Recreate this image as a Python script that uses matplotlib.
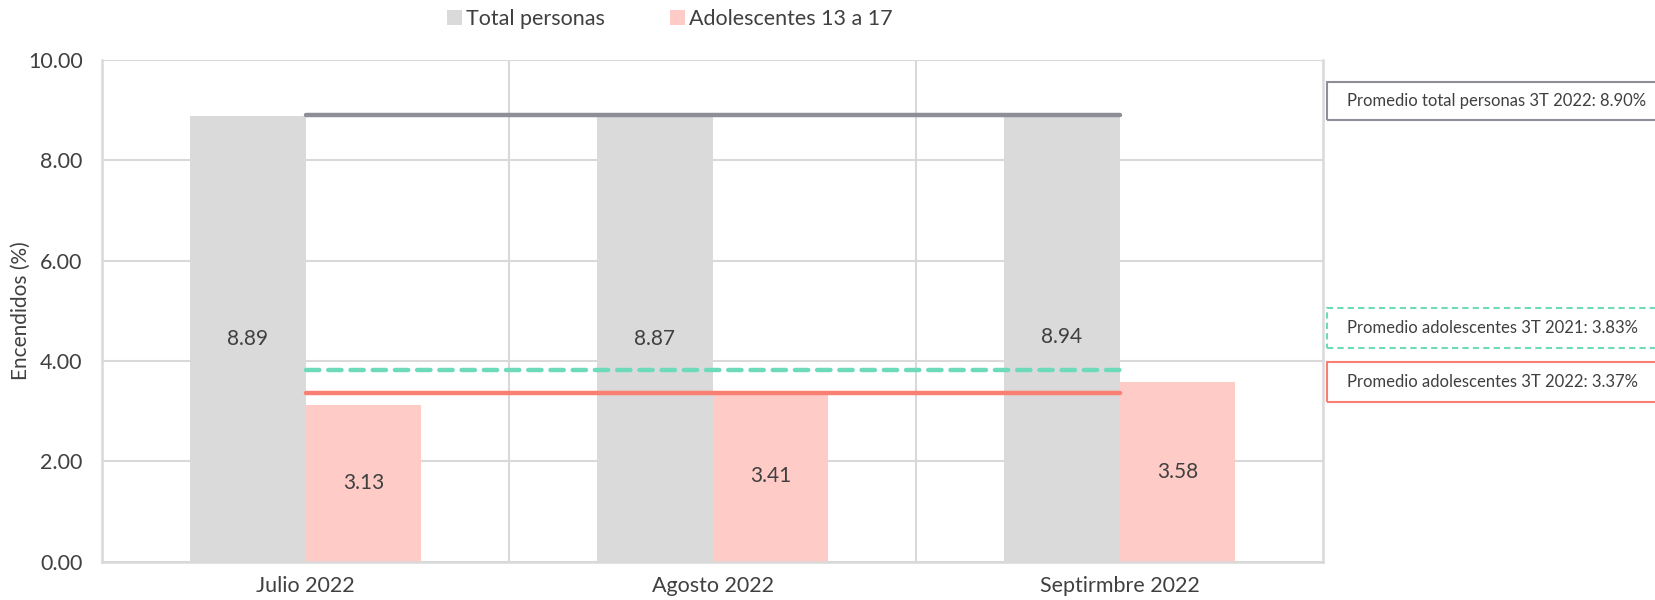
import numpy as np
import matplotlib.pyplot as plt
from matplotlib.patches import Rectangle

plt.rcParams['font.family'] = ['Lato', 'DejaVu Sans']

# data
meses = ['Julio 2022', 'Agosto 2022', 'Septirmbre 2022']
total_personas = [8.89, 8.87, 8.94]
adolescentes = [3.13, 3.41, 3.58]
prom_total_2022 = 8.90
prom_adol_2021 = 3.83
prom_adol_2022 = 3.37
yticks = [0, 2, 4, 6, 8, 10]

c_gray = '#dadada'
c_pink = '#ffcbc7'
c_line_gray = '#8e8e98'
c_teal = '#6ddbb9'
c_red = '#f87f72'
c_text = '#404040'
c_grid = '#d9d9d9'

fig = plt.figure(figsize=(16.56, 6.0), dpi=100)
ax = fig.add_axes([102/1656, 1 - 561.7/600, (1323 - 102)/1656, (561.7 - 60)/600])

x = np.arange(len(meses))
w = 0.285
b1 = ax.bar(x - w/2, total_personas, w, color=c_gray, label='Total personas', zorder=2)
b2 = ax.bar(x + w/2, adolescentes, w, color=c_pink, label='Adolescentes 13 a 17', zorder=2)

for rects, vals in ((b1, total_personas), (b2, adolescentes)):
    for r, v in zip(rects, vals):
        ax.text(r.get_x() + r.get_width()/2, v/2, f'{v:.2f}', ha='center', va='center',
                fontsize=15, color=c_text, zorder=5)

# promedio lines from first to last month
ax.plot([x[0], x[-1]], [prom_total_2022]*2, color=c_line_gray, lw=3.2,
        solid_capstyle='round', zorder=4)
ax.plot([x[0], x[-1]], [prom_adol_2021]*2, color=c_teal, lw=3.2, ls=(0, (3, 2)),
        dash_capstyle='round', zorder=4)
ax.plot([x[0], x[-1]], [prom_adol_2022]*2, color=c_red, lw=3.2,
        solid_capstyle='round', zorder=4)

ax.set_xlim(-0.5, len(meses) - 0.5)
ax.set_ylim(0, 10)
ax.set_yticks(yticks)
ax.set_yticklabels([f'{t:.2f}' for t in yticks])
ax.set_xticks(x)
ax.set_xticklabels(meses)
ax.tick_params(axis='both', length=0, labelsize=15.5, colors=c_text)
ax.tick_params(axis='y', pad=14)
ax.tick_params(axis='x', pad=10)
ax.set_ylabel('Encendidos (%)', fontsize=15, color=c_text)
ax.yaxis.set_label_coords(-0.058, 0.5)

# grid: horizontal at ticks, vertical at month boundaries
ax.yaxis.grid(True, color=c_grid, lw=1.5, zorder=0)
for xb in np.arange(0.5, len(meses) - 0.5, 1):
    ax.axvline(xb, color=c_grid, lw=1.5, zorder=0)
ax.spines['top'].set_visible(False)
for s in ['left', 'right', 'bottom']:
    ax.spines[s].set_color(c_grid)
    ax.spines[s].set_linewidth(1.8)

fig.legend(handles=[b1, b2], loc='center', bbox_to_anchor=(670/1656, 1 - 19/600), ncol=2,
           frameon=False, fontsize=15.5, handlelength=0.7, handleheight=0.7,
           handletextpad=0.2, columnspacing=3.0, labelcolor=c_text)

# annotation boxes on the right
boxes = [
    (f'Promedio total personas 3T 2022: {prom_total_2022:.2f}%', 81.7, 120, c_line_gray, '-'),
    (f'Promedio adolescentes 3T 2021: {prom_adol_2021:.2f}%', 308, 348, c_teal, (0, (3, 2))),
    (f'Promedio adolescentes 3T 2022: {prom_adol_2022:.2f}%', 362, 402, c_red, '-'),
]
for txt, top, bot, ec, ls in boxes:
    fig.patches.append(Rectangle((1327/1656, 1 - bot/600), 400/1656, (bot - top)/600,
                                 transform=fig.transFigure, fill=False, ec=ec, lw=1.5, ls=ls))
    fig.text(1347/1656, 1 - (top + bot)/2/600, txt, ha='left', va='center',
             fontsize=12, color=c_text)

fig.savefig('out.png', dpi=100)
